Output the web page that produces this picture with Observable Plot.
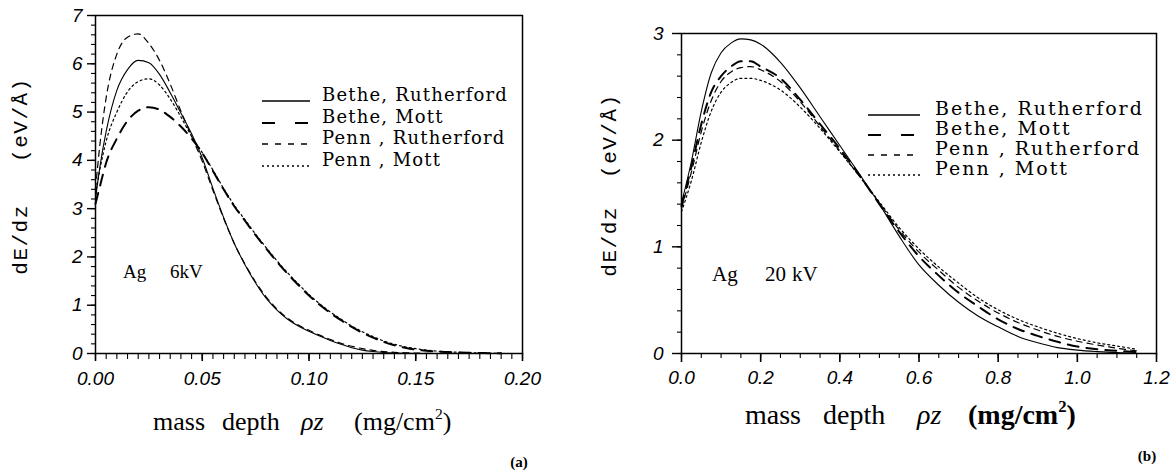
<!DOCTYPE html>
<html><head><meta charset="utf-8">
<script src="https://cdn.jsdelivr.net/npm/d3@7"></script>
<script src="https://cdn.jsdelivr.net/npm/@observablehq/plot@0.6"></script>
<style>
html,body{margin:0;padding:0;background:#fff;}
#wrap{position:relative;width:1176px;height:472px;overflow:hidden;background:#fff;}
#wrap > svg{position:absolute;}
</style></head><body><div id="wrap"></div>
<script>
// ---------- data ----------
const seriesNames = ["Bethe, Rutherford", "Bethe, Mott", "Penn , Rutherford", "Penn , Mott"];

// panel (a): Ag 6 kV
const depthA = [0,0.002,0.005,0.01,0.015,0.02,0.025,0.03,0.035,0.04,0.045,0.05,0.055,0.06,0.065,0.07,0.075,0.08,0.085,0.09,0.095,0.1,0.105,0.11,0.115,0.12,0.125,0.13,0.135,0.14,0.145,0.15,0.155,0.16,0.165,0.17,0.175,0.18,0.185,0.19];
const betheRuthA = [3.2,3.85,4.6,5.45,5.88,6.07,6.02,5.78,5.4,4.98,4.55,4.05,3.42,2.82,2.28,1.84,1.46,1.14,0.9,0.71,0.57,0.46,0.36,0.27,0.19,0.12,0.07,0.04,0.02,0.01,0.005,0,0,0,0,0,0,0,0,0];
const betheMottA = [3.1,3.45,3.95,4.45,4.82,5.03,5.1,5.05,4.9,4.7,4.45,4.15,3.78,3.4,3.05,2.75,2.45,2.17,1.9,1.65,1.42,1.2,1.01,0.84,0.69,0.55,0.43,0.33,0.24,0.17,0.12,0.08,0.055,0.04,0.03,0.02,0.015,0.01,0.006,0.003];
const pennRuthA = [3.4,4.3,5.3,6.2,6.55,6.62,6.42,6.07,5.58,5.02,4.5,3.98,3.38,2.8,2.28,1.85,1.48,1.17,0.92,0.73,0.59,0.48,0.38,0.29,0.21,0.15,0.1,0.065,0.04,0.025,0.015,0.008,0.004,0,0,0,0,0,0,0];
const pennMottA = [3.3,3.8,4.4,5.0,5.42,5.63,5.69,5.56,5.27,4.9,4.5,4.16,3.8,3.42,3.07,2.77,2.47,2.19,1.92,1.67,1.44,1.22,1.03,0.86,0.71,0.57,0.45,0.35,0.26,0.19,0.14,0.1,0.07,0.05,0.035,0.025,0.018,0.012,0.007,0.004];

// panel (b): Ag 20 kV
const depthB = [0,0.025,0.05,0.075,0.1,0.125,0.15,0.175,0.2,0.25,0.3,0.35,0.4,0.45,0.5,0.55,0.6,0.65,0.7,0.75,0.8,0.85,0.9,0.95,1.0,1.05,1.1,1.15];
const betheRuthB = [1.41,1.80,2.27,2.63,2.82,2.91,2.95,2.94,2.90,2.73,2.49,2.22,1.95,1.68,1.40,1.10,0.83,0.64,0.48,0.35,0.25,0.16,0.10,0.055,0.032,0.018,0.008,0.003];
const betheMottB = [1.38,1.75,2.15,2.45,2.60,2.69,2.74,2.74,2.69,2.58,2.38,2.15,1.92,1.67,1.40,1.14,0.91,0.73,0.57,0.44,0.32,0.23,0.165,0.11,0.065,0.04,0.025,0.012];
const pennRuthB = [1.36,1.70,2.08,2.37,2.55,2.64,2.68,2.69,2.66,2.55,2.36,2.13,1.90,1.66,1.41,1.16,0.95,0.78,0.62,0.49,0.38,0.29,0.22,0.16,0.115,0.08,0.05,0.025];
const pennMottB = [1.33,1.62,1.98,2.27,2.45,2.54,2.58,2.58,2.56,2.47,2.31,2.11,1.89,1.66,1.42,1.18,0.98,0.81,0.66,0.52,0.41,0.32,0.25,0.19,0.14,0.10,0.07,0.04];

// ticks
const xTicksA = [0,0.05,0.1,0.15,0.2];
const xTickLabelsA = ["0.00","0.05","0.10","0.15","0.20"];
const yTicksA = [0,1,2,3,4,5,6,7];
const yTickLabelsA = ["0","1","2","3","4","5","6","7"];
const xTicksB = [0,0.2,0.4,0.6,0.8,1.0,1.2];
const xTickLabelsB = ["0.0","0.2","0.4","0.6","0.8","1.0","1.2"];
const yTicksB = [0,1,2,3];
const yTickLabelsB = ["0","1","2","3"];

const yLabelText = "dE/dz";
const yUnitText = "(eV/Å)";
const annA = ["Ag", "6kV"];
const annB = ["Ag", "20", "kV"];

// ---------- styles ----------
const lineStyles = [
  {strokeWidth: 1.1, dash: null, lgDash: null},
  {strokeWidth: 2.0, dash: "11,8", lgDash: "13,20"},
  {strokeWidth: 1.2, dash: "6,5", lgDash: "6,7"},
  {strokeWidth: 1.2, dash: "2,3", lgDash: "2,3"}
];
const tickFont = {fontFamily: "Liberation Sans, Arial, sans-serif", fontStyle: "italic", fontSize: 19};

function makePanel(cfg) {
  const rows = [];
  cfg.series.forEach((vals, i) => vals.forEach((v, j) => rows.push({series: seriesNames[i], x: cfg.depth[j], y: v})));
  const xl = new Map(cfg.xTicks.map((t, i) => [t, cfg.xLabels[i]]));
  const yl = new Map(cfg.yTicks.map((t, i) => [t, cfg.yLabels[i]]));
  const lines = seriesNames.map((name, i) => Plot.line(rows.filter(d => d.series === name), {
    x: "x", y: "y", stroke: "black", strokeWidth: lineStyles[i].strokeWidth,
    strokeDasharray: lineStyles[i].dash || undefined, curve: "monotone-x"
  }));
  return Plot.plot({
    width: cfg.width, height: 472,
    marginLeft: cfg.ml, marginRight: cfg.mr, marginTop: cfg.mt, marginBottom: 119,
    x: {domain: cfg.xDomain}, y: {domain: cfg.yDomain},
    style: {background: "transparent", color: "black", overflow: "visible"},
    marks: [
      Plot.axisX(cfg.xMinor, {tickSize: cfg.xMinorSize, tickFormat: () => "", label: null, strokeWidth: 1.1}),
      Plot.axisX(cfg.xTicks, {tickSize: cfg.xMajorSize, tickPadding: cfg.xPad, tickFormat: d => xl.get(d), label: null, strokeWidth: 1.6, ...tickFont}),
      Plot.axisY(cfg.yMinor, {tickSize: cfg.yMinorSize, tickFormat: () => "", label: null, strokeWidth: 1.1}),
      Plot.axisY(cfg.yTicks, {tickSize: cfg.yMajorSize, tickPadding: cfg.yPad, tickFormat: d => yl.get(d), label: null, strokeWidth: 1.4, ...tickFont}),
      ...lines,
      Plot.frame({stroke: "black", strokeWidth: 1.5})
    ]
  });
}

const wrap = document.getElementById("wrap");

const pA = makePanel({
  width: 560, ml: 95, mr: 38, mt: 15,
  xDomain: [0, 0.2], yDomain: [0, 7],
  depth: depthA, series: [betheRuthA, betheMottA, pennRuthA, pennMottA],
  xTicks: xTicksA, xLabels: xTickLabelsA, yTicks: yTicksA, yLabels: yTickLabelsA,
  xMinor: d3.range(0, 0.2001, 0.005), yMinor: d3.range(0, 7.001, 0.2),
  xMinorSize: 6, xMajorSize: 8, xPad: 10, yMinorSize: 4, yMajorSize: 8, yPad: 5
});
pA.style.left = "0px"; pA.style.top = "0px";
wrap.appendChild(pA);

const pB = makePanel({
  width: 586, ml: 91, mr: 20, mt: 33,
  xDomain: [0, 1.2], yDomain: [0, 3],
  depth: depthB, series: [betheRuthB, betheMottB, pennRuthB, pennMottB],
  xTicks: xTicksB, xLabels: xTickLabelsB, yTicks: yTicksB, yLabels: yTickLabelsB,
  xMinor: d3.range(0, 1.2001, 0.05), yMinor: d3.range(0, 3.001, 0.2),
  xMinorSize: 5, xMajorSize: 9, xPad: 8, yMinorSize: 4, yMajorSize: 9, yPad: 9
});
pB.style.left = "590px"; pB.style.top = "0px";
wrap.appendChild(pB);

// ---------- overlay texts ----------
const ov = d3.select(wrap).append("svg").attr("width", 1176).attr("height", 472)
  .style("left", "0px").style("top", "0px").style("pointer-events", "none");

function yTitle(cx, cy, gap) {
  ov.append("text").attr("x", cx).attr("y", cy)
    .attr("transform", `rotate(-90,${cx},${cy})`)
    .attr("text-anchor", "middle").attr("dominant-baseline", "central")
    .attr("font-family", "Liberation Mono, monospace").attr("font-size", 21)
    .attr("letter-spacing", 1.5).attr("xml:space", "preserve").style("white-space", "pre")
    .text(yLabelText + gap + yUnitText);
}
yTitle(21, 176, "\u00a0\u00a0\u00a0");
yTitle(610, 185, "\u00a0\u00a0");

function xTitle(pos, baseline, size, boldUnit) {
  const t = ov.append("text").attr("y", baseline).attr("font-family", "Liberation Serif, serif").attr("font-size", size);
  t.append("tspan").attr("x", pos[0]).text("mass");
  t.append("tspan").attr("x", pos[1]).text("depth");
  t.append("tspan").attr("x", pos[2]).attr("font-style", "italic").text("ρz");
  const u = t.append("tspan").attr("x", pos[3]).attr("font-weight", boldUnit ? "bold" : "normal");
  u.append("tspan").text("(mg/cm");
  u.append("tspan").attr("font-size", size * 0.6).attr("dy", -size * 0.42).text("2");
  u.append("tspan").attr("dy", size * 0.42).text(")");
}
xTitle([153, 222, 301, 354], 430, 26, false);
xTitle([745, 823, 917, 968], 424, 28, true);

// annotations
ov.append("text").attr("y", 278).attr("font-family", "Liberation Serif, serif").attr("font-size", 19)
  .call(t => { t.append("tspan").attr("x", 123).text(annA[0]); t.append("tspan").attr("x", 170).text(annA[1]); });
ov.append("text").attr("y", 281).attr("font-family", "Liberation Serif, serif").attr("font-size", 21)
  .call(t => { t.append("tspan").attr("x", 712).text(annB[0]); t.append("tspan").attr("x", 765).text(annB[1]); t.append("tspan").attr("x", 792).text(annB[2]); });

// panel letters
ov.append("text").attr("x", 519).attr("y", 467).attr("text-anchor", "middle")
  .attr("font-family", "Liberation Serif, serif").attr("font-weight", "bold").attr("font-size", 15).text("(a)");
ov.append("text").attr("x", 1147).attr("y", 461).attr("text-anchor", "middle")
  .attr("font-family", "Liberation Serif, serif").attr("font-weight", "bold").attr("font-size", 15).text("(b)");

// legends
function legend(x0, x1, tx, baselines, size, spacing) {
  seriesNames.forEach((name, i) => {
    const y = baselines[i];
    ov.append("line").attr("x1", x0).attr("x2", x1).attr("y1", y).attr("y2", y)
      .attr("stroke", "black").attr("stroke-width", lineStyles[i].strokeWidth + 0.2)
      .attr("stroke-dasharray", lineStyles[i].lgDash);
    ov.append("text").attr("x", tx).attr("y", y).attr("font-family", "DejaVu Serif, serif")
      .attr("font-size", size).attr("letter-spacing", spacing).attr("xml:space", "preserve")
      .style("white-space", "pre").text(name);
  });
}
legend(262, 310, 322, [101, 123, 144, 166], 18, 1.2);
legend(868, 920, 935, [115, 135, 155, 175], 19, 2);
</script></body></html>
